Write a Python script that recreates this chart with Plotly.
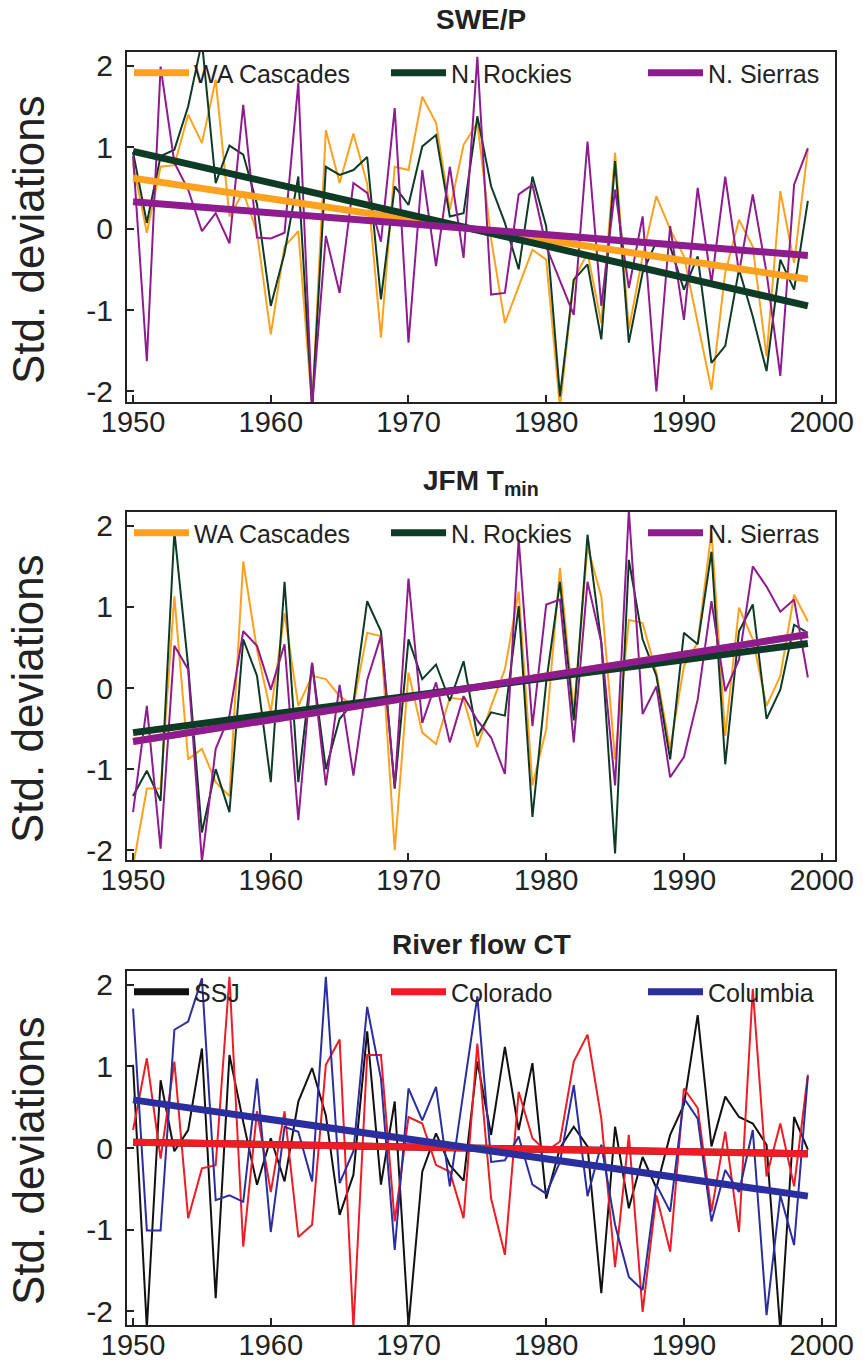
import plotly.graph_objects as go

years = list(range(1950, 2000))

# SWE/P panel
swe_wa = [0.80, -0.05, 0.76, 0.78, 1.40, 1.05, 1.83, 0.15, 0.45, -0.05,
          -1.30, -0.22, -0.03, -2.2, 1.21, 0.56, 1.17, 0.55, -1.34, 0.76,
          0.72, 1.62, 1.30, 0.23, 1.03, 1.30, -0.13, -1.16, -0.71, -0.26,
          -0.38, -2.2, -0.63, -0.30, -1.16, 0.93, -1.24, -0.34, 0.40, -0.01,
          -0.34, -1.18, -1.98, -0.54, 0.11, -0.22, -1.57, 0.46, -0.42, 0.97]
swe_nr = [0.94, 0.07, 0.89, 0.97, 1.5, 2.3, 0.56, 1.02, 0.91, 0.3,
          -0.95, -0.3, 0.64, -2.2, 0.76, 0.66, 0.72, 0.88, -0.87, 0.52,
          0.29, 1.01, 1.15, 0.15, 0.19, 1.38, 0.52, 0.07, -0.50, 0.64,
          0.03, -2.06, -0.63, -0.44, -1.36, 0.83, -1.40, -0.54, -0.16, -0.22,
          -0.75, -0.34, -1.65, -1.44, -0.50, -1.08, -1.75, -0.38, -0.75, 0.34]
swe_ns = [0.89, -1.63, 1.99, 0.81, 0.48, -0.03, 0.19, -0.18, 1.52, -0.11,
          -0.12, -0.05, 1.79, -2.2, -0.09, -0.79, 0.56, 0.44, -0.16, 1.48,
          -1.40, 0.72, -0.46, 0.76, -0.36, 2.11, -0.81, -0.79, 0.42, 0.54,
          -0.22, -0.63, -1.06, 1.07, -0.95, 0.48, -0.73, 0.15, -2.0, 0.03,
          -1.12, 0.50, -0.67, 0.64, -0.54, 0.42, -0.54, -1.81, 0.54, 0.99]

# JFM Tmin panel
t_wa = [-2.2, -1.24, -1.24, 1.13, -0.88, -0.75, -1.16, -1.33, 1.56, 0.47,
        -0.30, 0.92, -0.22, 0.15, 0.11, -0.10, -0.22, 0.68, 0.64, -2.0,
        0.19, -0.55, -0.69, -0.12, -0.14, -0.73, -0.22, 0.23, 1.19, -1.20,
        -0.51, 1.48, -0.30, 1.74, 1.13, -0.88, 0.84, 0.80, 0.19, -0.75,
        0.27, 0.56, 1.93, -0.59, 0.99, 0.60, -0.22, 0.15, 1.15, 0.82]
t_nr = [-1.33, -1.02, -1.39, 1.93, 0.27, -1.78, -1.00, -1.53, 0.60, 0.15,
        -1.16, 1.31, -1.16, 0.31, -1.00, -0.38, -0.18, 1.07, 0.70, -1.24,
        0.60, 0.11, 0.29, -0.16, 0.33, -0.59, -0.30, -0.34, 1.01, -1.59,
        0.07, 1.31, -0.40, 1.89, 0.56, -2.04, 1.58, 0.60, 0.15, -0.88,
        0.68, 0.54, 1.68, -0.94, 0.70, 1.03, -0.38, -0.02, 0.78, 0.68]
t_ns = [-1.53, -0.22, -1.98, 0.52, 0.23, -2.14, -0.75, -0.34, 0.70, 0.52,
        -0.02, 0.54, -1.63, 0.31, -1.20, 0.04, -1.08, 0.10, 0.64, -1.22,
        1.35, -0.43, 0.07, -0.67, -0.10, -0.40, -0.61, -1.06, 1.84, -0.47,
        1.03, 1.09, -0.67, 1.31, 0.56, -1.20, 2.19, -0.32, 0.02, -1.10,
        -0.85, -0.14, 1.07, -0.04, 0.35, 1.50, 1.25, 0.94, 1.09, 0.13]

# River flow CT panel
flow_ssj = [1.02, -2.21, 0.83, -0.04, 0.22, 1.22, -1.84, 1.14, 0.32, -0.45,
            0.12, -0.41, 0.57, 0.98, 0.40, -0.82, -0.33, 1.43, -0.45, 0.57,
            -2.19, -0.29, 0.18, -0.21, -0.40, 1.06, 0.16, 1.24, 0.22, 1.04,
            -0.62, 0.0, 0.26, 0.02, -1.78, 0.26, -0.74, -0.11, -0.49, 0.16,
            0.53, 1.63, 0.02, 0.63, 0.38, 0.30, 0.04, -2.25, 0.38, -0.02]
flow_col = [0.22, 1.10, -0.13, 1.06, -0.86, -0.25, -0.21, 2.1, -1.21, 0.45,
            -0.54, 0.45, -1.09, -0.94, 1.02, 1.33, -2.21, 1.14, 1.14, -0.90,
            0.38, 0.30, -0.21, -0.29, -0.86, 1.28, -0.62, -1.31, 0.69, 0.12,
            -0.04, 0.08, 1.06, 1.39, 0.36, -1.46, 0.16, -2.01, -0.58, -1.27,
            0.73, 0.49, -0.78, 0.20, -1.03, 1.95, -0.35, 0.30, -0.47, 0.90]
flow_clb = [1.71, -1.01, -1.01, 1.45, 1.55, 2.08, -0.64, -0.58, -0.66, 0.85,
            -1.03, 0.26, 0.20, -0.41, 2.10, -0.43, -0.04, 1.73, 0.85, -1.25,
            0.73, 0.34, 0.75, -0.47, 0.70, 1.86, -0.17, -0.15, 0.14, -0.45,
            -0.56, -0.17, 0.77, -0.59, 0.04, -0.94, -1.58, -1.74, -0.45, -0.78,
            0.61, 0.36, -0.90, -0.27, -0.54, 0.22, -2.05, -0.58, -1.19, 0.88]

# linear trends (start/end values)
trend_years = [1950, 1999]
swe_trend_wa = [0.62, -0.62]
swe_trend_nr = [0.95, -0.95]
swe_trend_ns = [0.33, -0.33]
t_trend_wa = [-0.66, 0.66]
t_trend_nr = [-0.55, 0.55]
t_trend_ns = [-0.66, 0.66]
flow_trend_ssj = [0.07, -0.07]
flow_trend_col = [0.07, -0.07]
flow_trend_clb = [0.59, -0.59]

names1 = ["WA Cascades", "N. Rockies", "N. Sierras"]
names3 = ["SSJ", "Colorado", "Columbia"]
titles = ["SWE/P", "JFM T<sub>min</sub>", "River flow CT"]
y_title = "Std. deviations"
x_ticks = [1950, 1960, 1970, 1980, 1990, 2000]
y_ticks = [-2, -1, 0, 1, 2]
y_ticktext = ["-2", "-1", "0", "1", "2"]

ORANGE = "#FDA11E"
GREEN = "#0E3B25"
PURPLE = "#8E1C8F"
BLACK = "#111111"
RED = "#EE1C24"
BLUE = "#2B2E9E"

panels = [
    ([swe_wa, swe_nr, swe_ns], [swe_trend_wa, swe_trend_nr, swe_trend_ns], names1, [ORANGE, GREEN, PURPLE]),
    ([t_wa, t_nr, t_ns], [t_trend_wa, t_trend_nr, t_trend_ns], names1, [ORANGE, GREEN, PURPLE]),
    ([flow_ssj, flow_col, flow_clb], [flow_trend_ssj, flow_trend_col, flow_trend_clb], names3, [BLACK, RED, BLUE]),
]

H = 1363.0
W = 863.0
FONT = "Liberation Sans, Arial, Helvetica, sans-serif"
frames = [(52, 402), (512, 860), (971, 1325)]
title_offsets = [32, 29, 26]
yranges = [[-2.13, 2.17], [-2.12, 2.17], [-2.17, 2.17]]
x0, x1 = 127, 835

fig = go.Figure()
layout = dict(
    width=863, height=1363,
    margin=dict(l=0, r=0, t=0, b=0, autoexpand=False),
    paper_bgcolor="white", plot_bgcolor="white",
    font=dict(family=FONT, color="#222222"),
    showlegend=True,
    annotations=[],
)

for i, (series, trends, names, colors) in enumerate(panels):
    k = "" if i == 0 else str(i + 1)
    xa = "x" + k
    ya = "y" + k
    leg = "legend" + k
    for s, c in zip(series, colors):
        fig.add_trace(go.Scatter(x=years, y=s, mode="lines", line=dict(color=c, width=2),
                                 xaxis=xa, yaxis=ya, showlegend=False, hoverinfo="skip"))
    for t, c, n in zip(trends, colors, names):
        fig.add_trace(go.Scatter(x=trend_years, y=t, mode="lines", name=n,
                                 line=dict(color=c, width=7), xaxis=xa, yaxis=ya,
                                 legend=leg, showlegend=True))
    top, bot = frames[i]
    dom = [1 - bot / H, 1 - top / H]
    layout["xaxis" + k] = dict(
        domain=[x0 / W, x1 / W], anchor=ya, range=[1949.56, 2000.97],
        tickmode="array", tickvals=x_ticks, automargin=False,
        ticks="inside", ticklen=7, tickwidth=2, tickcolor="#222",
        ticklabelstandoff=-7,
        showline=True, mirror=True, linecolor="#222", linewidth=2,
        showgrid=False, zeroline=False,
        tickfont=dict(size=29, family=FONT, color="#222"),
    )
    layout["yaxis" + k] = dict(
        domain=dom, anchor=xa, range=yranges[i], automargin=False,
        tickmode="array", tickvals=y_ticks, ticktext=y_ticktext,
        ticks="inside", ticklen=7, tickwidth=2, tickcolor="#222",
        ticklabelstandoff=6,
        showline=True, mirror=True, linecolor="#222", linewidth=2,
        showgrid=False, zeroline=False,
        tickfont=dict(size=30, family=FONT, color="#222"),
    )
    layout[leg] = dict(
        orientation="h", x=(x0 + 2) / W, xanchor="left",
        y=1 - (top - 2) / H, yanchor="top",
        bgcolor="rgba(0,0,0,0)", borderwidth=0,
        itemwidth=55,
        entrywidth=187, entrywidthmode="pixels",
        font=dict(size=25, family=FONT, color="#222"),
    )
    layout["annotations"].append(dict(
        text="<b>" + titles[i] + "</b>", xref="paper", yref="paper",
        x=(x0 + x1) / 2 / W, y=1 - (top - title_offsets[i]) / H, xanchor="center", yanchor="middle",
        showarrow=False, font=dict(size=28, family=FONT, color="#222"),
    ))
    layout["annotations"].append(dict(
        text=y_title, xref="paper", yref="paper", textangle=-90,
        x=28 / W, y=1 - ((top + bot) / 2 + 13) / H, xanchor="center", yanchor="middle",
        showarrow=False, font=dict(size=44, family=FONT, color="#222"),
    ))

fig.update_layout(**layout)
fig.write_html("out.html")
